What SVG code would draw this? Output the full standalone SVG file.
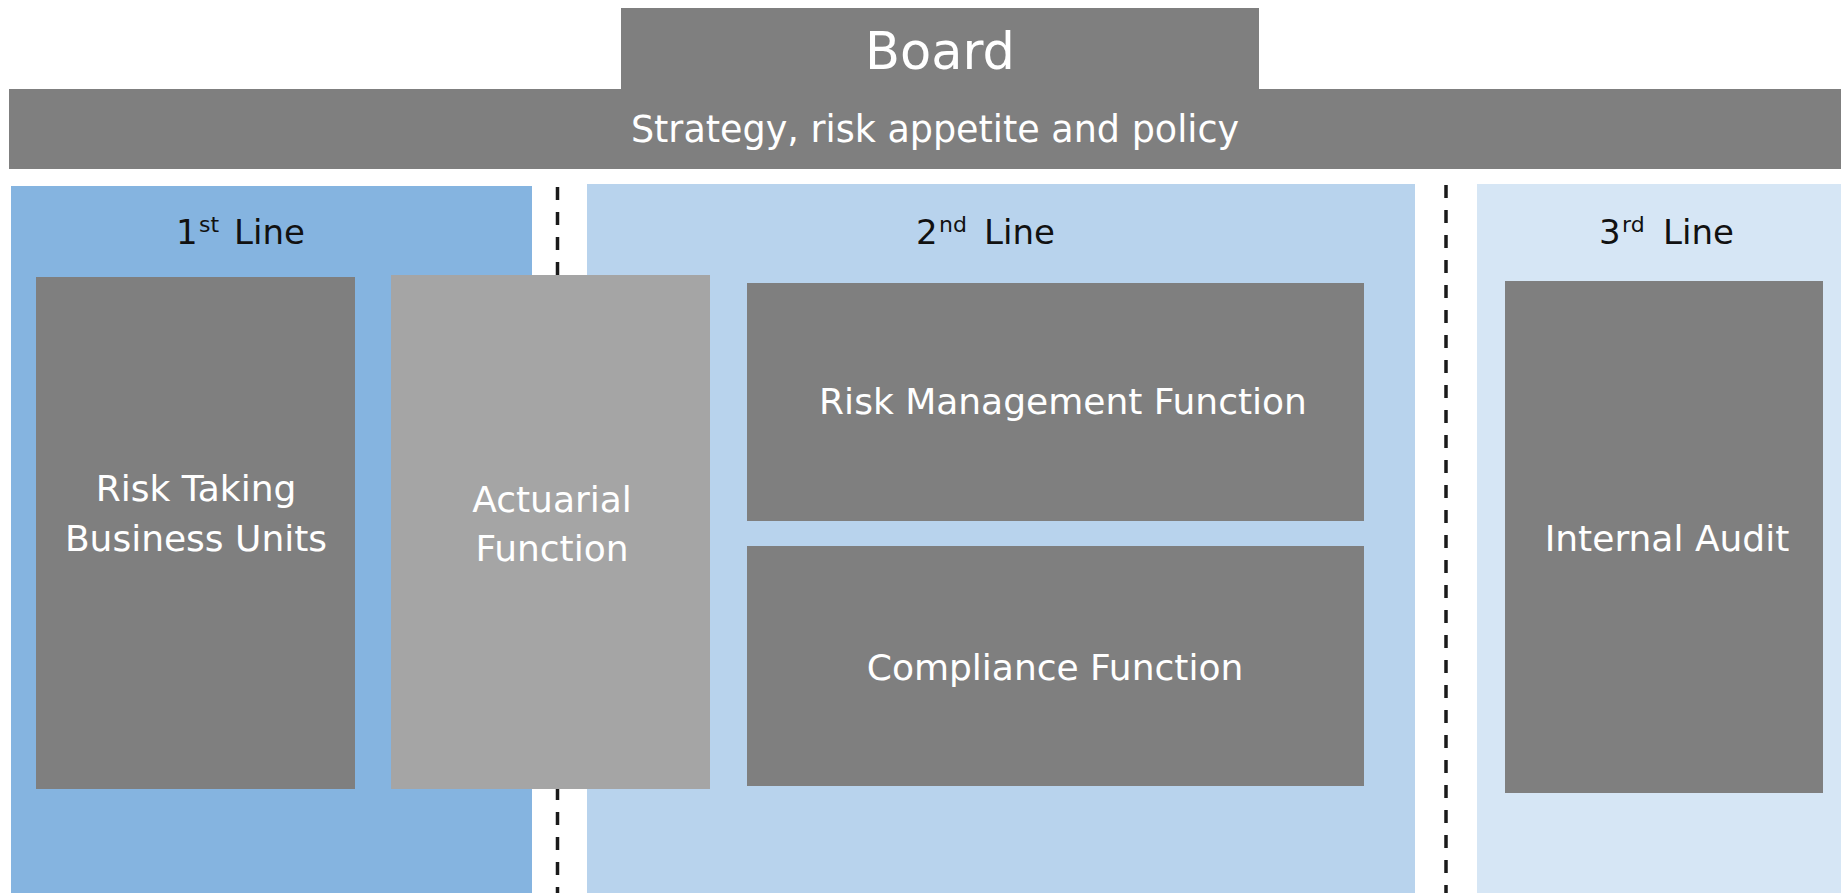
<svg xmlns="http://www.w3.org/2000/svg" width="1841" height="893" viewBox="0 0 1841 893">
<style>
.dark{fill:#7f7f7f}
.wt{fill:#ffffff;font-family:"DejaVu Sans",sans-serif;font-size:36px;text-anchor:middle}
.lbl{fill:#111111;font-family:"DejaVu Sans",sans-serif;font-size:34px}
.sup{font-size:22px}
.dash{stroke:#1a1a1a;stroke-width:3.5;stroke-dasharray:13 12;fill:none}
</style>
<rect width="1841" height="893" fill="#ffffff"/>
<g id="board">
<rect class="dark" x="621" y="8" width="638" height="82"/>
<text class="wt" x="940" y="69" style="font-size:51px">Board</text>
</g>
<g id="strategy">
<rect class="dark" x="9" y="89" width="1832" height="80"/>
<text class="wt" x="935" y="142" style="font-size:36.5px">Strategy, risk appetite and policy</text>
</g>
<g id="line1">
<rect x="11" y="186" width="521" height="707" fill="#85b4e0"/>
<text class="lbl" y="244"><tspan x="176">1</tspan><tspan class="sup" x="199" y="232">st</tspan><tspan x="234" y="244">Line</tspan></text>
</g>
<g id="line2">
<rect x="587" y="184" width="828" height="709" fill="#b8d3ed"/>
<text class="lbl" y="244"><tspan x="916">2</tspan><tspan class="sup" x="939" y="232">nd</tspan><tspan x="984" y="244">Line</tspan></text>
</g>
<g id="line3">
<rect x="1477" y="184" width="364" height="709" fill="#d6e6f5"/>
<text class="lbl" y="244"><tspan x="1599">3</tspan><tspan class="sup" x="1622" y="232">rd</tspan><tspan x="1663" y="244">Line</tspan></text>
</g>
<g id="connectors">
<line class="dash" x1="557.5" y1="187" x2="557.5" y2="893"/>
<line class="dash" x1="1446" y1="185" x2="1446" y2="893"/>
</g>
<g id="risk-taking">
<rect class="dark" x="36" y="277" width="319" height="512"/>
<text class="wt" x="196" y="501">Risk Taking</text>
<text class="wt" x="196" y="551">Business Units</text>
</g>
<g id="actuarial">
<rect x="391" y="275" width="319" height="514" fill="#a5a5a5"/>
<text class="wt" x="552" y="512">Actuarial</text>
<text class="wt" x="552" y="561">Function</text>
</g>
<g id="risk-management">
<rect class="dark" x="747" y="283" width="617" height="238"/>
<text class="wt" x="1063" y="414">Risk Management Function</text>
</g>
<g id="compliance">
<rect class="dark" x="747" y="546" width="617" height="240"/>
<text class="wt" x="1055" y="680">Compliance Function</text>
</g>
<g id="internal-audit">
<rect class="dark" x="1505" y="281" width="318" height="512"/>
<text class="wt" x="1667" y="551">Internal Audit</text>
</g>
</svg>
